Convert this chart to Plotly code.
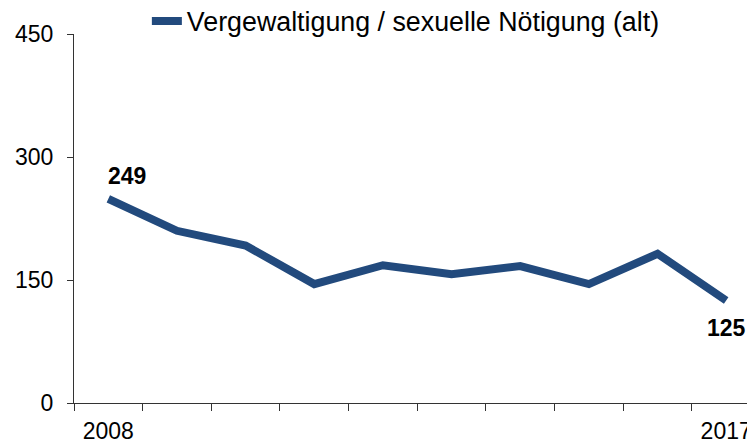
import plotly.graph_objects as go

years = [2008, 2009, 2010, 2011, 2012, 2013, 2014, 2015, 2016, 2017]
values = [249, 210, 192, 145, 168, 157, 167, 145, 182, 125]
series_name = "Vergewaltigung / sexuelle Nötigung (alt)"
y_ticks = [0, 150, 300, 450]
x_labels = ["2008", "2017"]

color = "#224a7d"
font = "Liberation Sans, Arial, sans-serif"

fig = go.Figure()
fig.add_trace(go.Scatter(
    x=years, y=values, mode="lines", name=series_name,
    line=dict(color=color, width=8),
    hoverinfo="skip",
))

fig.add_annotation(x=years[0], y=values[0], text="<b>%d</b>" % values[0],
                   showarrow=False, xanchor="left", yanchor="middle",
                   xshift=-2, yshift=23, font=dict(size=23, color="black", family=font))
fig.add_annotation(x=years[-1], y=values[-1], text="<b>%d</b>" % values[-1],
                   showarrow=False, xanchor="center", yanchor="middle",
                   yshift=-27, font=dict(size=23, color="black", family=font))

boundaries = [y - 0.5 for y in years]

# page body has an 8px margin; figure size/margins compensate for it
fig.update_layout(
    width=747, height=437,
    margin=dict(l=66, r=0, t=26, b=42, autoexpand=False),
    paper_bgcolor="white", plot_bgcolor="white",
    font=dict(family=font, size=23, color="black"),
    showlegend=True,
    legend=dict(orientation="h", x=0.107, y=1.035, xanchor="left", yanchor="middle",
                font=dict(size=26.8, family=font), bgcolor="rgba(0,0,0,0)",
                borderwidth=0, itemwidth=30),
    xaxis=dict(
        range=[years[0] - 0.5, years[-1] + 0.42],
        tickmode="array", tickvals=[years[0], years[-1]], ticktext=x_labels,
        ticks="", showgrid=False, zeroline=False, automargin=False,
        ticklabelstandoff=7,
        showline=True, linecolor="#333333", linewidth=1.3,
        tickfont=dict(size=23, family=font, color="black"),
        minor=dict(tickmode="array", tickvals=boundaries, ticks="outside",
                   ticklen=7, tickcolor="#333333", tickwidth=1.3, showgrid=False),
    ),
    yaxis=dict(
        range=[0, 450], tickmode="array", tickvals=y_ticks,
        ticks="outside", ticklen=6, tickcolor="#333333", tickwidth=1.3,
        showgrid=False, zeroline=False, automargin=False,
        ticklabelstandoff=9,
        showline=True, linecolor="#333333", linewidth=1.3,
        tickfont=dict(size=23, family=font, color="black"),
    ),
)

fig.write_html("out.html")
